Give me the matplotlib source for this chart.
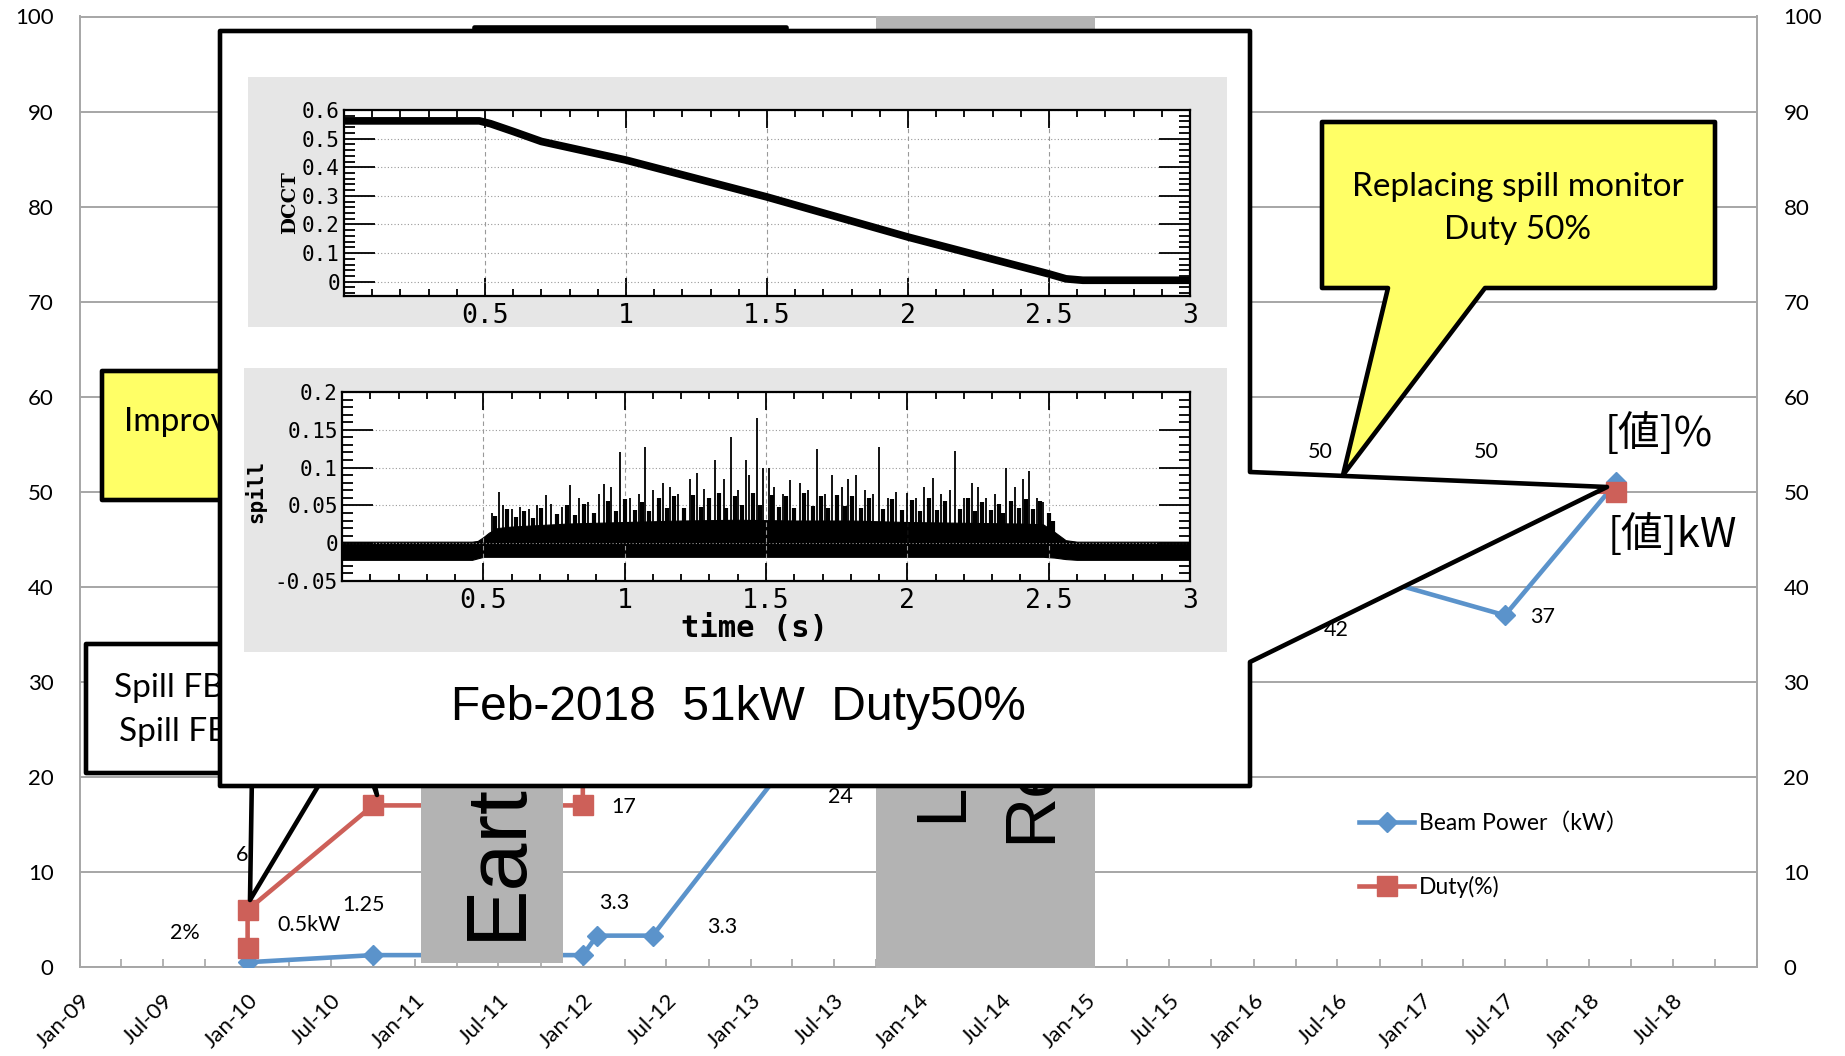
import numpy as np
import pandas as pd
import matplotlib
matplotlib.use('Agg')
import matplotlib.pyplot as plt
import matplotlib.dates as mdates
import matplotlib.transforms as mtransforms
from matplotlib.patches import Polygon, Rectangle
from matplotlib.ticker import MultipleLocator

plt.rcParams['font.family'] = ['Lato', 'Noto Sans CJK JP', 'DejaVu Sans']

# beam power history (kW)
power_dates = pd.to_datetime(['2010-01-01', '2010-10-01', '2012-01-01', '2012-02-01', '2012-06-01',
                              '2013-05-01', '2016-07-01', '2017-07-01', '2018-03-01'])
power_kw = [0.5, 1.25, 1.25, 3.3, 3.3, 24, 42, 37, 51]
power_labels = ['0.5kW', '1.25', '', '3.3', '3.3', '24', '42', '37', '[値]kW']

# duty history (%)
duty_dates = pd.to_datetime(['2010-01-01', '2010-01-01', '2010-10-01', '2012-01-01', '2012-01-01',
                             '2016-07-01', '2017-07-01', '2018-03-01'])
duty_pct = [2, 6, 17, 17, 30, 50, 50, 50]
duty_labels = ['2%', '6', '', '17', '', '50', '50', '[値]%']

# inset: DCCT waveform (Feb-2018)
dcct_t = [0.0, 0.48, 0.52, 0.6, 0.7, 1.0, 1.5, 2.0, 2.5, 2.56, 2.62, 3.0]
dcct_v = [0.562, 0.562, 0.552, 0.525, 0.49, 0.425, 0.296, 0.156, 0.027, 0.01, 0.005, 0.005]

# inset: spill signal, read as envelope + spikes
spill_t = [0.0, 0.46, 0.48, 0.5, 0.52, 0.55, 0.6, 0.7, 0.8, 0.9, 1.0, 1.2, 1.4, 1.6, 1.8,
           2.0, 2.2, 2.4, 2.48, 2.52, 2.56, 2.6, 3.0]
spill_low = [-0.022, -0.022, -0.02, -0.018, -0.018, -0.018, -0.018, -0.018, -0.018, -0.018, -0.018,
             -0.018, -0.018, -0.018, -0.018, -0.018, -0.018, -0.018, -0.018, -0.019, -0.021, -0.022, -0.022]
spill_core = [0.002, 0.002, 0.003, 0.008, 0.014, 0.02, 0.022, 0.024, 0.026, 0.027, 0.028, 0.03, 0.031,
              0.03, 0.03, 0.028, 0.027, 0.026, 0.025, 0.015, 0.004, 0.002, 0.002]
spill_spikes = [(0.53, 0.04), (0.555, 0.068), (0.57, 0.05), (0.6, 0.045), (0.63, 0.048), (0.66, 0.045),
                (0.69, 0.05), (0.72, 0.064), (0.74, 0.052), (0.78, 0.048), (0.806, 0.077), (0.84, 0.06),
                (0.87, 0.055), (0.91, 0.065), (0.928, 0.078), (0.95, 0.075), (0.985, 0.121), (1.02, 0.06),
                (1.05, 0.065), (1.073, 0.127), (1.1, 0.07), (1.135, 0.08), (1.16, 0.075), (1.19, 0.065),
                (1.23, 0.085), (1.257, 0.093), (1.28, 0.072), (1.32, 0.11), (1.35, 0.085), (1.377, 0.141),
                (1.4, 0.07), (1.43, 0.11), (1.44, 0.09), (1.467, 0.166), (1.49, 0.10), (1.51, 0.10),
                (1.53, 0.075), (1.56, 0.065), (1.584, 0.084), (1.62, 0.08), (1.65, 0.07), (1.68, 0.125),
                (1.71, 0.065), (1.734, 0.09), (1.77, 0.075), (1.79, 0.085), (1.82, 0.09), (1.85, 0.07),
                (1.88, 0.065), (1.9, 0.127), (1.93, 0.06), (1.96, 0.068), (2.0, 0.066), (2.03, 0.06),
                (2.06, 0.075), (2.09, 0.086), (2.12, 0.065), (2.15, 0.07), (2.17, 0.122), (2.2, 0.06),
                (2.23, 0.08), (2.25, 0.075), (2.28, 0.06), (2.31, 0.065), (2.35, 0.099), (2.38, 0.075),
                (2.41, 0.085), (2.43, 0.095), (2.46, 0.06), (2.48, 0.055)]
# smaller grass on top of the dense band
spill_grass = [(0.54, 0.036), (0.585, 0.045), (0.615, 0.034), (0.645, 0.042), (0.675, 0.033),
               (0.705, 0.046), (0.76, 0.038), (0.795, 0.05), (0.825, 0.037), (0.855, 0.052),
               (0.89, 0.04), (0.94, 0.056), (0.97, 0.042), (1.0, 0.058), (1.035, 0.044), (1.06, 0.055),
               (1.085, 0.043), (1.12, 0.06), (1.15, 0.046), (1.175, 0.062), (1.21, 0.047), (1.24, 0.064),
               (1.27, 0.048), (1.3, 0.06), (1.335, 0.066), (1.36, 0.047), (1.39, 0.063), (1.415, 0.05),
               (1.455, 0.066), (1.48, 0.05), (1.52, 0.064), (1.545, 0.048), (1.57, 0.062), (1.6, 0.047),
               (1.635, 0.066), (1.665, 0.049), (1.695, 0.062), (1.72, 0.046), (1.75, 0.064), (1.78, 0.049),
               (1.805, 0.063), (1.835, 0.046), (1.865, 0.06), (1.915, 0.045), (1.945, 0.058),
               (1.98, 0.044), (2.015, 0.057), (2.045, 0.043), (2.075, 0.06), (2.105, 0.044),
               (2.135, 0.056), (2.185, 0.045), (2.215, 0.06), (2.24, 0.042), (2.265, 0.055),
               (2.295, 0.044), (2.325, 0.052), (2.34, 0.04), (2.365, 0.056), (2.395, 0.046),
               (2.42, 0.058), (2.445, 0.045), (2.47, 0.056), (2.5, 0.04), (2.515, 0.03)]

BLUE = '#5b93cb'
RED = '#cd6059'
GRID = '#a6a6a6'
YELLOW = '#ffff66'
W, H = 1845, 1056

fig = plt.figure(figsize=(W / 100, H / 100), dpi=100)


def px_axes(l, t, r, b):
    return [l / W, 1 - b / H, (r - l) / W, (b - t) / H]


# ---------------- main chart ----------------
ax = fig.add_axes(px_axes(80, 16.5, 1757, 967))
ax.set_xlim(pd.Timestamp('2009-01-01'), pd.Timestamp('2019-01-01'))
ax.set_ylim(0, 100)
ax.yaxis.set_major_locator(MultipleLocator(10))
ax.grid(axis='y', color=GRID, lw=1.4)
ax.set_axisbelow(True)
for s in ax.spines.values():
    s.set_color(GRID)
    s.set_linewidth(1.4)

major = pd.date_range('2009-01-01', '2018-07-01', freq='6MS')
minor = pd.date_range('2009-01-01', '2019-01-01', freq='3MS')
ax.set_xticks(mdates.date2num(minor), minor=True)
ax.set_xticks(mdates.date2num(major), labels=[d.strftime('%b-%y') for d in major],
              rotation=45, ha='right', va='top', rotation_mode='anchor')
shift = mtransforms.ScaledTranslation(0.04, 0, fig.dpi_scale_trans)
for lab in ax.get_xticklabels():
    lab.set_transform(lab.get_transform() + shift)
ax.tick_params(axis='x', which='both', direction='in', color=GRID, width=1.2, length=6,
               labelsize=16, pad=17)
ax.tick_params(axis='y', length=0, labelleft=True, labelright=True, labelsize=16, pad=19)

ax.plot(power_dates, power_kw, color=BLUE, lw=3.3, marker='D', ms=10, zorder=3,
        label='Beam Power（kW）')
ax.plot(duty_dates, duty_pct, color=RED, lw=3.3, marker='s', ms=15, zorder=4, label='Duty(%)')

power_offsets = [(44.6, 26.6), (-6.5, 36), (0, 0), (12.2, 23.5), (50, 6.2), (24.5, -41.8),
                 (-0.7, -44.6), (27.4, -1.4), (40.3, -37.4)]
duty_offsets = [(-45, 11), (-4.3, 39.6), (0, 0), (29.5, -1.4), (0, 0), (-12.2, 28.8),
                (-13.3, 28.8), (30.2, 41.8)]
for dates, vals, texts, offs in [(power_dates, power_kw, power_labels, power_offsets),
                                 (duty_dates, duty_pct, duty_labels, duty_offsets)]:
    for d, v, txt, off in zip(dates, vals, texts, offs):
        if not txt:
            continue
        big = txt.startswith('[')
        ax.annotate(txt, (d, v), xytext=off, textcoords='offset points', ha='center', va='center',
                    fontsize=30 if big else 15.5,
                    family=['Noto Sans CJK JP'] if big else ['Lato', 'Noto Sans CJK JP'],
                    zorder=6)

ax.legend(loc='upper left', bbox_to_anchor=((1359 - 80) / 1677, (967 - 812) / 950.5),
          frameon=False, handlelength=2.4, handletextpad=0.2, labelspacing=1.85,
          borderaxespad=0, borderpad=0, fontsize=16.5, numpoints=1)

# ---------------- overlay shapes (pixel coords) ----------------
ov = fig.add_axes([0, 0, 1, 1])
ov.set_xlim(0, W)
ov.set_ylim(H, 0)
ov.axis('off')

# grey period boxes (their labels run under the inset, only the start shows)
ov.add_patch(Rectangle((421, 300), 142, 663, fc='#b3b3b3', ec='none', zorder=1))
ov.text(520, 940, 'Earth', rotation=90, rotation_mode='anchor', ha='left', va='baseline',
        fontsize=62, family='Liberation Sans', zorder=1.1)
ov.add_patch(Rectangle((876, 16), 219, 952, fc='#b3b3b3', ec='none', zorder=1))
ov.text(961, 822, 'Lo', rotation=90, rotation_mode='anchor', ha='left', va='baseline',
        fontsize=51, family='Liberation Sans', zorder=1.1)
ov.text(1050, 843, 'Re', rotation=90, rotation_mode='anchor', ha='left', va='baseline',
        fontsize=51, family='Liberation Sans', zorder=1.1)


def callout(pts, fc, z):
    ov.add_patch(Polygon(pts, closed=True, fc=fc, ec='black', lw=3.3, joinstyle='round', zorder=z))


# callout hidden under inset (only its top edge shows)
callout([(474, 27), (786, 27), (786, 300), (474, 300)], 'white', 2)
# "Improve..." callout
callout([(102, 371), (360, 371), (360, 500), (310, 500), (377, 795), (270, 500), (102, 500)], YELLOW, 3)
ov.text(124, 422, 'Improve', fontsize=24, ha='left', va='center', zorder=3.1)
# "Spill FB" callout
callout([(86, 644), (360, 644), (360, 773), (326, 773), (250, 900), (252, 773), (86, 773)], 'white', 4)
ov.text(114, 688, 'Spill FB on', fontsize=24, ha='left', va='center', zorder=4.1)
ov.text(119, 732, 'Spill FB off', fontsize=24, ha='left', va='center', zorder=4.1)

# inset callout with wedge to Feb-2018 point
callout([(220, 31), (1250, 31), (1250, 472), (1607, 487), (1250, 662), (1250, 786), (220, 786)], 'white', 5)
ov.add_patch(Rectangle((248, 77), 979, 250, fc='#e6e6e6', ec='none', zorder=5.1))
ov.add_patch(Rectangle((244, 368), 983, 284, fc='#e6e6e6', ec='none', zorder=5.1))
ov.text(738, 708, 'Feb-2018  51kW  Duty50%', fontsize=34.5, family='Liberation Sans',
        ha='center', va='center', zorder=5.2)

# "Replacing spill monitor" callout
callout([(1322, 122), (1715, 122), (1715, 288), (1485, 288), (1343, 475), (1388, 288), (1322, 288)],
        YELLOW, 6)
ov.text(1518, 187, 'Replacing spill monitor', fontsize=24, ha='center', va='center', zorder=6.1)
ov.text(1518, 230, 'Duty 50%', fontsize=24, ha='center', va='center', zorder=6.1)

# ---------------- inset plots ----------------
MONO = 'DejaVu Sans Mono'


def style_inset(a, yt, ylabels, yminor):
    a.set_xlim(0, 3)
    a.set_xticks([0.5, 1, 1.5, 2, 2.5, 3], labels=['0.5', '1', '1.5', '2', '2.5', '3'],
                 family=MONO)
    a.xaxis.set_minor_locator(MultipleLocator(0.1))
    a.set_yticks(yt, labels=ylabels, family=MONO)
    a.yaxis.set_minor_locator(MultipleLocator(yminor))
    a.tick_params(which='both', direction='in', top=True, right=True, width=1.3, color='black')
    a.tick_params(axis='x', which='major', length=13, labelsize=19, pad=5)
    a.tick_params(axis='x', which='minor', length=5)
    a.tick_params(axis='y', which='major', length=22, labelsize=15, pad=3)
    a.tick_params(axis='y', which='minor', length=8)
    a.xaxis.grid(True, ls=(0, (4, 3)), color='#999999', lw=0.8)
    a.yaxis.grid(True, ls=(0, (1, 2)), color='#999999', lw=0.8)
    for s in a.spines.values():
        s.set_linewidth(1.6)


a1 = fig.add_axes(px_axes(344, 110, 1190, 296))
a1.plot(dcct_t, dcct_v, color='black', lw=5.5, solid_capstyle='butt')
a1.set_ylim(-0.05, 0.6)
style_inset(a1, [0, 0.1, 0.2, 0.3, 0.4, 0.5, 0.6], ['0', '0.1', '0.2', '0.3', '0.4', '0.5', '0.6'], 0.02)
a1.text(-0.064, 0.5, 'DCCT', transform=a1.transAxes, rotation=90, ha='center', va='center',
        fontsize=14, fontweight='bold', family='DejaVu Serif')

a2 = fig.add_axes(px_axes(342, 392, 1190, 581))
a2.fill_between(spill_t, spill_low, spill_core, color='black', lw=0.8)
a2.vlines([p[0] for p in spill_grass], 0, [p[1] for p in spill_grass], color='black', lw=3)
a2.vlines([p[0] for p in spill_spikes], 0, [p[1] for p in spill_spikes], color='black', lw=1.3)
a2.set_ylim(-0.05, 0.2)
style_inset(a2, [-0.05, 0, 0.05, 0.1, 0.15, 0.2], ['-0.05', '0', '0.05', '0.1', '0.15', '0.2'], 0.01)
a2.text(-0.102, 0.476, 'spill', transform=a2.transAxes, rotation=90, ha='center', va='center',
        fontsize=15, fontweight='bold', family=MONO)
a2.text(0.486, -0.25, 'time (s)', transform=a2.transAxes, ha='center', va='center',
        fontsize=22, fontweight='bold', family=MONO)

fig.savefig('out.png', dpi=100)
